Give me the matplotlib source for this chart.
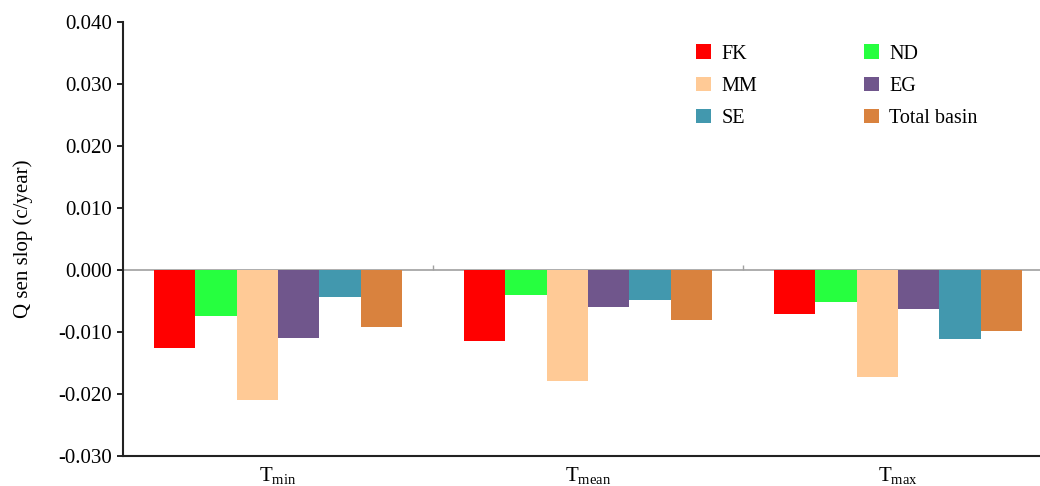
import matplotlib
matplotlib.use("Agg")
import matplotlib.pyplot as plt
import numpy as np

plt.rcParams['font.family'] = ['Liberation Serif', 'DejaVu Serif']
plt.rcParams['mathtext.fontset'] = 'custom'
plt.rcParams['mathtext.rm'] = 'Liberation Serif'

categories = ["T$_{\\mathrm{min}}$", "T$_{\\mathrm{mean}}$", "T$_{\\mathrm{max}}$"]
regions = ["FK", "ND", "MM", "EG", "SE", "Total basin"]
colors = ["#FF0000", "#26FF3F", "#FFCA96", "#70568C", "#4298AE", "#D9823E"]

# Sen slope per region, for Tmin / Tmean / Tmax
fk = [-0.0125, -0.0114, -0.0071]
nd = [-0.0074, -0.0041, -0.0052]
mm = [-0.0209, -0.0179, -0.0173]
eg = [-0.0109, -0.0060, -0.0063]
se = [-0.0044, -0.0049, -0.0112]
total = [-0.0092, -0.0080, -0.0098]
series = [fk, nd, mm, eg, se, total]

fig = plt.figure(figsize=(10.4, 4.86), dpi=100)
ax = fig.add_axes([123 / 1040, 30 / 486, 930 / 1040, 434 / 486])

x = np.arange(len(categories))
width = 0.8 / len(series)
bars = []
for i, (name, vals) in enumerate(zip(regions, series)):
    b = ax.bar(x - 0.4 + width * (i + 0.5), vals, width, color=colors[i],
               label=name, zorder=2)
    bars.append(b)

# zero line with small marks between groups
ax.axhline(0, color="#A0A0A0", lw=1.2, zorder=1)
ax.vlines([0.5, 1.5], 0, 0.0008, color="#A0A0A0", lw=1.0)

ax.set_xlim(-0.5, 2.5)
ax.set_ylim(-0.030, 0.040)
ax.set_yticks(np.arange(-0.030, 0.041, 0.010))
ax.set_yticklabels([f"{v:.3f}" for v in np.arange(-0.030, 0.041, 0.010)])
ax.set_xticks(x)
ax.set_xticklabels(categories)
ax.tick_params(axis='x', length=0, pad=7, labelsize=15)
ax.tick_params(axis='y', direction='out', length=4, width=1.2, labelsize=15, pad=4)
ax.set_ylabel("Q sen slop (c/year)", fontsize=15, labelpad=18)

for s in ["top", "right"]:
    ax.spines[s].set_visible(False)
for s in ["left", "bottom"]:
    ax.spines[s].set_linewidth(1.5)
    ax.spines[s].set_color("#222222")

order = [0, 2, 4, 1, 3, 5]
ax.legend([bars[i] for i in order], [regions[i] for i in order], ncol=2,
          frameon=False, fontsize=14.5, loc="upper left",
          bbox_to_anchor=(0.597, 0.99), handlelength=0.75, handleheight=0.75,
          handletextpad=0.5, columnspacing=5.3, labelspacing=0.63)

fig.savefig("out.png", dpi=100)
